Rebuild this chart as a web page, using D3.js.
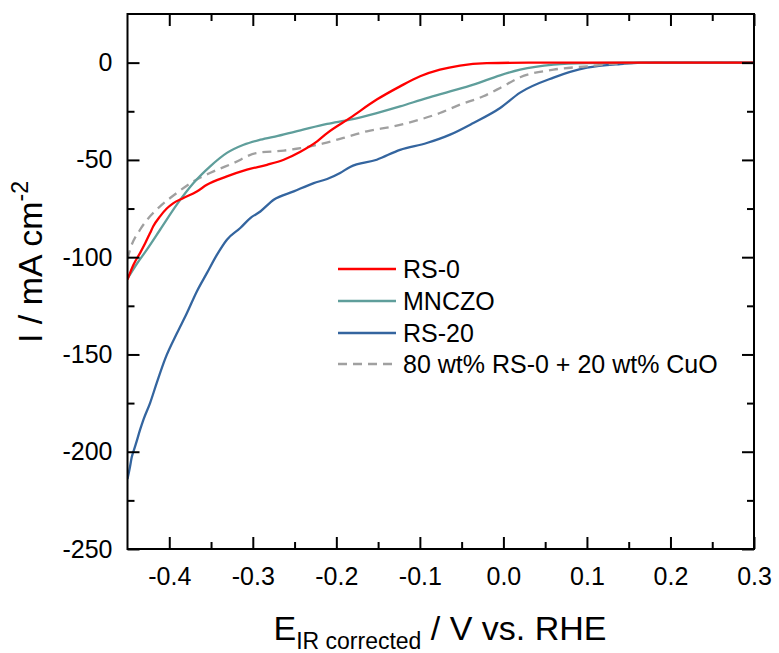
<!DOCTYPE html>
<html>
<head>
<meta charset="utf-8">
<script src="https://cdn.jsdelivr.net/npm/d3@7"></script>
<style>
  html, body { margin: 0; padding: 0; background: #fff; }
  svg { display: block; }
  text { font-family: "Liberation Sans", Arial, sans-serif; fill: #000; }
</style>
</head>
<body>
<svg id="chart" width="779" height="653"></svg>
<script>
// ---- data ----
const xTicks = [-0.4, -0.3, -0.2, -0.1, 0.0, 0.1, 0.2, 0.3];
const xMinor = [-0.35, -0.25, -0.15, -0.05, 0.05, 0.15, 0.25];
const yTicks = [0, -50, -100, -150, -200, -250];
const yMinor = [-25, -75, -125, -175, -225];

const seriesNames = ["RS-0", "MNCZO", "RS-20", "80 wt% RS-0 + 20 wt% CuO"];

const rs0 = [
  [-0.45,-111.5],[-0.443,-104],[-0.435,-97.9],[-0.429,-93],[-0.423,-87.6],[-0.419,-84],
  [-0.411,-79],[-0.403,-75],[-0.395,-72.2],[-0.383,-69.6],[-0.367,-66.2],[-0.355,-62.8],
  [-0.331,-58.5],[-0.307,-55],[-0.283,-52.5],[-0.263,-49.9],[-0.243,-45.8],[-0.223,-40.5],
  [-0.211,-36.2],[-0.1835,-28.4],[-0.1516,-19],[-0.1237,-12.2],[-0.0997,-7],[-0.076,-3.6],
  [-0.052,-1.5],[-0.02,-0.3],[0.03,0],[0.3,0]
];
const mnczo = [
  [-0.45,-111],[-0.439,-103.5],[-0.427,-96.2],[-0.411,-85.9],[-0.391,-73],[-0.371,-61.9],
  [-0.351,-53.3],[-0.331,-46.4],[-0.311,-42.2],[-0.291,-39.6],[-0.270,-37.6],[-0.243,-34.8],
  [-0.211,-31.5],[-0.1835,-29.3],[-0.1516,-25.9],[-0.1237,-22.5],[-0.0917,-18.2],
  [-0.0638,-14.8],[-0.0359,-11.3],[-0.0039,-6.5],[0.020,-3.6],[0.060,-1.0],[0.100,-0.2],
  [0.15,0],[0.3,0]
];
const rs20 = [
  [-0.45,-214],[-0.447,-207.7],[-0.445,-203],[-0.443,-200],[-0.440,-196],[-0.435,-188.8],
  [-0.431,-183.6],[-0.423,-175],[-0.415,-164.6],[-0.4047,-152],[-0.3907,-139],[-0.379,-128.8],
  [-0.367,-117.6],[-0.355,-108.2],[-0.343,-98.8],[-0.331,-91],[-0.315,-85],[-0.303,-79.9],
  [-0.291,-76.5],[-0.275,-70.5],[-0.251,-66.2],[-0.227,-61.9],[-0.211,-59.8],[-0.1955,-56.7],
  [-0.1835,-53.6],[-0.1516,-49.9],[-0.1237,-44.8],[-0.0917,-41.3],[-0.0638,-37],
  [-0.0359,-31],[-0.0039,-23.3],[0.020,-15.4],[0.060,-7.7],[0.100,-2.6],[0.140,-0.7],
  [0.179,0],[0.3,0]
];
const mix = [
  [-0.45,-101],[-0.447,-96.2],[-0.435,-85.9],[-0.423,-79],[-0.411,-73.9],[-0.391,-67],
  [-0.371,-61],[-0.347,-55.9],[-0.323,-51.6],[-0.296,-46.5],[-0.263,-45.2],[-0.243,-44],
  [-0.2155,-41.5],[-0.1915,-38.7],[-0.1635,-35.3],[-0.1317,-32.8],[-0.1077,-30.2],
  [-0.076,-25.9],[-0.052,-21.6],[-0.024,-17.3],[-0.0039,-13],[0.020,-7.5],[0.060,-3.6],
  [0.100,-1.9],[0.140,-0.4],[0.2,0],[0.3,0]
];

const colors = ["#ff0000", "#5f9e9b", "#34659f", "#a0a0a0"];

// ---- layout ----
const svg = d3.select("#chart");
const L = 127.5, R = 754, T = 14, B = 549;
const x = d3.scaleLinear().domain([-0.45, 0.3]).range([L, R]);
const y = d3.scaleLinear().domain([-250, 25]).range([B, T]);

const line = d3.line().x(d => x(d[0])).y(d => y(d[1])).curve(d3.curveMonotoneX);

const plot = svg.append("g");
plot.append("defs").append("clipPath").attr("id", "clip")
  .append("rect").attr("x", L).attr("y", T).attr("width", R - L).attr("height", B - T);

const data = [rs0, mnczo, rs20, mix];
const drawOrder = [2, 3, 1, 0];
drawOrder.forEach(i => {
  plot.append("path")
    .attr("clip-path", "url(#clip)")
    .attr("d", line(data[i]))
    .attr("fill", "none")
    .attr("stroke", colors[i])
    .attr("stroke-width", 2.3)
    .attr("stroke-dasharray", i === 3 ? "9,6" : null);
});

// ---- axes ----
function styleAxis(g) {
  g.select(".domain").remove();
  g.selectAll(".tick line").attr("stroke", "#000").attr("stroke-width", 2);
  g.selectAll(".tick text").style("font-size", "25px").attr("fill", "#000");
}
const fmtX = d => d.toFixed(1);
const fmtY = d => String(d);

svg.append("g").attr("transform", `translate(0,${B})`)
  .call(d3.axisBottom(x).tickValues(xTicks).tickFormat(fmtX).tickSizeInner(-12).tickSizeOuter(0).tickPadding(18))
  .call(styleAxis);
svg.append("g").attr("transform", `translate(0,${B})`)
  .call(d3.axisBottom(x).tickValues(xMinor).tickFormat("").tickSizeInner(-7).tickSizeOuter(0))
  .call(styleAxis);
svg.append("g").attr("transform", `translate(0,${T})`)
  .call(d3.axisTop(x).tickValues(xTicks).tickFormat("").tickSizeInner(-12).tickSizeOuter(0))
  .call(styleAxis);
svg.append("g").attr("transform", `translate(0,${T})`)
  .call(d3.axisTop(x).tickValues(xMinor).tickFormat("").tickSizeInner(-7).tickSizeOuter(0))
  .call(styleAxis);

svg.append("g").attr("transform", `translate(${L},0)`)
  .call(d3.axisLeft(y).tickValues(yTicks).tickFormat(fmtY).tickSizeInner(-12).tickSizeOuter(0).tickPadding(15))
  .call(styleAxis);
svg.append("g").attr("transform", `translate(${L},0)`)
  .call(d3.axisLeft(y).tickValues(yMinor).tickFormat("").tickSizeInner(-7).tickSizeOuter(0))
  .call(styleAxis);
svg.append("g").attr("transform", `translate(${R},0)`)
  .call(d3.axisRight(y).tickValues(yTicks).tickFormat("").tickSizeInner(-12).tickSizeOuter(0))
  .call(styleAxis);
svg.append("g").attr("transform", `translate(${R},0)`)
  .call(d3.axisRight(y).tickValues(yMinor).tickFormat("").tickSizeInner(-7).tickSizeOuter(0))
  .call(styleAxis);

svg.append("rect").attr("x", L).attr("y", T).attr("width", R - L).attr("height", B - T)
  .attr("fill", "none").attr("stroke", "#000").attr("stroke-width", 2);

// ---- axis titles ----
const xt = svg.append("text").attr("x", 440).attr("y", 640).attr("text-anchor", "middle")
  .style("font-size", "34px");
xt.append("tspan").text("E");
xt.append("tspan").attr("dy", 9).style("font-size", "23px").text("IR corrected");
xt.append("tspan").attr("dy", -9).text(" / V vs. RHE");

const yt = svg.append("text").attr("transform", "translate(42,262) rotate(-90)")
  .attr("text-anchor", "middle").style("font-size", "34px");
yt.append("tspan").text("I / mA cm");
yt.append("tspan").attr("dy", -14).style("font-size", "23px").text("-2");

// ---- legend ----
const lg = svg.append("g");
const rowY = [269, 301, 333, 364];
seriesNames.forEach((name, i) => {
  lg.append("line").attr("x1", 338).attr("x2", 396).attr("y1", rowY[i]).attr("y2", rowY[i])
    .attr("stroke", colors[i]).attr("stroke-width", 2.3)
    .attr("stroke-dasharray", i === 3 ? "9,6" : null);
  lg.append("text").attr("x", 403).attr("y", rowY[i]).attr("dy", "0.35em")
    .style("font-size", "25px").text(name);
});
</script>
</body>
</html>
